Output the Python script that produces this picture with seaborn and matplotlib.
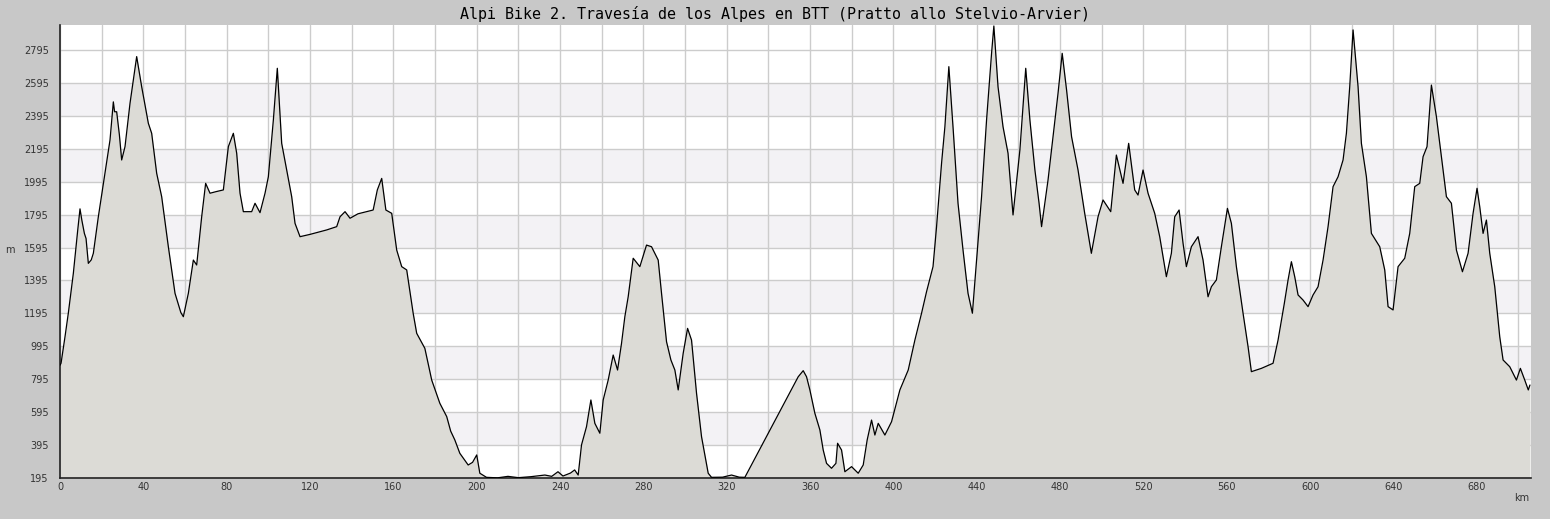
import numpy as np
import pandas as pd
import matplotlib
matplotlib.use("Agg")
import matplotlib.pyplot as plt
import seaborn as sns
from matplotlib.ticker import MultipleLocator, FixedLocator, FuncFormatter

sns.set_style("white")

title = "Alpi Bike 2. Travesía de los Alpes en BTT (Pratto allo Stelvio-Arvier)"

# distance (km) and altitude (m)
km = [0, 0.5, 2.4, 4, 6.4, 8.5, 9.6, 10.5, 11.7, 12.5, 13.6, 15, 16, 18.4, 21.6,
      24, 25.6, 26.2, 27.2, 28.5, 29.6, 31.2, 33.6, 36.8, 39.2, 42.4, 44, 46.4,
      48.8, 52, 55.2, 58, 59.2, 61.6, 64, 65.6, 68, 69.9, 72, 75, 78.4, 80.8,
      83.2, 84.8, 86.4, 88, 92, 93.6, 96, 98.4, 100, 102.4, 104.3, 106.4, 108.8,
      111.2, 112.8, 115.2, 120, 128, 132.8, 134.4, 136.8, 139.2, 143, 147.2,
      150.3, 152.3, 154.4, 156.4, 159.2, 161.6, 164, 166.4, 169.5, 171.2, 175.1,
      178.4, 182.3, 185.6, 187.5, 189.5, 191.9, 195.9, 198, 200, 201.5, 204.7,
      210, 215, 220, 226, 232.7, 236, 239, 241.4, 245, 247, 248.7, 250.3, 252.7,
      254.8, 256.7, 259.1, 260.7, 263.1, 265.5, 267.6, 269.5, 271.1, 272.7,
      275.1, 278.3, 281.5, 283.9, 287.1, 288.7, 291.1, 293.2, 295.1, 296.7,
      299.1, 301.2, 303.1, 305.5, 307.9, 311.1, 312.7, 318, 322.3, 326, 328.7,
      354.3, 356.7, 358.3, 359.9, 362.3, 364.7, 366.3, 367.9, 370.3, 372.4,
      373.2, 375.1, 376.7, 379.9, 383.1, 385.5, 387.4, 389.5, 391.1, 392.7,
      395.9, 399.1, 403.1, 407.1, 410.3, 413.5, 415.9, 419, 420.7, 423.1, 424.7,
      426.6, 428.7, 431, 433.4, 435.8, 437.9, 439.9, 442.3, 444.7, 447.1, 448.2,
      450.2, 452.6, 455, 457.4, 460.7, 463.5, 465.5, 467.9, 469.9, 471.1, 474.2,
      476.6, 479, 481, 483.1, 485.5, 488.6, 491.8, 495, 498.2, 500.6, 504.3, 507,
      510.2, 512.9, 515.8, 517.4, 519.8, 522.2, 525.4, 527.8, 531, 533.4, 535,
      537.1, 539, 540.6, 543, 546.2, 548.6, 551, 552.6, 555, 557.4, 560.3, 562.2,
      564.6, 567.8, 570.2, 571.8, 576.6, 582.2, 584.6, 587.6, 589.4, 591, 592.6,
      594.2, 596.6, 599, 601.4, 603.8, 606.2, 608.6, 611, 613.4, 615.8, 617.4,
      619, 620.6, 623, 624.6, 627, 629.4, 633.4, 635.8, 637.4, 639.8, 642.2,
      645.4, 647.8, 650.2, 652.6, 654.2, 656.1, 658.2, 660.6, 663, 665.4, 667.8,
      670.2, 673.1, 675.8, 678.2, 680.1, 681.4, 683, 684.6, 686.2, 688.6, 691,
      692.6, 695.8, 699, 700.9, 703, 704.7, 705.5]
alt = [880, 892, 1053, 1197, 1438, 1700, 1830, 1760, 1681, 1650, 1499, 1520, 1560,
       1782, 2046, 2248, 2480, 2420, 2420, 2280, 2127, 2208, 2471, 2755, 2572,
       2350, 2289, 2046, 1904, 1600, 1317, 1200, 1175, 1317, 1519, 1489, 1782,
       1985, 1925, 1935, 1945, 2208, 2289, 2168, 1925, 1813, 1813, 1864, 1807,
       1925, 2025, 2370, 2684, 2228, 2066, 1904, 1742, 1661, 1675, 1702, 1722,
       1782, 1813, 1773, 1800, 1813, 1823, 1945, 2015, 1823, 1803, 1580, 1479,
       1459, 1196, 1074, 983, 790, 649, 568, 480, 426, 345, 274, 290, 335, 224,
       199, 196, 205, 197, 203, 213, 205, 233, 207, 225, 244, 213, 396, 507, 669,
       527, 467, 669, 790, 942, 851, 1013, 1175, 1296, 1530, 1479, 1610, 1600,
       1519, 1317, 1023, 912, 851, 730, 953, 1104, 1033, 710, 446, 224, 199, 200,
       213, 200, 199, 810, 847, 810, 730, 588, 487, 365, 284, 254, 284, 406, 365,
       233, 264, 224, 274, 426, 547, 456, 527, 456, 537, 730, 851, 1033, 1196,
       1327, 1479, 1722, 2107, 2329, 2694, 2309, 1864, 1580, 1317, 1196, 1519,
       1904, 2370, 2775, 2941, 2572, 2329, 2168, 1793, 2188, 2684, 2370, 2066,
       1864, 1722, 2005, 2268, 2532, 2775, 2552, 2268, 2066, 1803, 1560, 1782,
       1884, 1813, 2157, 1985, 2228, 1945, 1914, 2066, 1925, 1803, 1661, 1418,
       1560, 1782, 1823, 1621, 1479, 1600, 1661, 1519, 1296, 1357, 1398, 1600,
       1833, 1742, 1479, 1196, 993, 841, 861, 892, 1033, 1255, 1398, 1509, 1418,
       1307, 1276, 1236, 1307, 1357, 1519, 1722, 1965, 2025, 2127, 2289, 2572,
       2917, 2572, 2228, 2025, 1681, 1600, 1459, 1236, 1216, 1479, 1530, 1681,
       1965, 1985, 2147, 2208, 2582, 2390, 2147, 1904, 1864, 1580, 1448, 1560,
       1803, 1955, 1843, 1681, 1762, 1560, 1357, 1053, 912, 871, 790, 861, 790,
       730, 760]

df = pd.DataFrame({"km": km, "alt": alt})

ymin, ymax = 195, 2947
xmax = 706
ytick_vals = list(range(195, 2800, 200))

fig = plt.figure(figsize=(15.5, 5.19), dpi=100, facecolor="#c8c8c8")
ax = fig.add_axes([60 / 1550, 1 - 478 / 519, 1471 / 1550, 453 / 519])
ax.set_facecolor("white")

# alternating grey bands
for lo in range(395, 2700, 400):
    ax.axhspan(lo, lo + 200, color="#f3f2f5", zorder=0, lw=0)

ax.fill_between(df.km, df.alt, ymin, color="#dcdbd6", zorder=2, lw=0)
sns.lineplot(data=df, x="km", y="alt", color="black", lw=0.9, ax=ax, zorder=3)

ax.set_xlim(0, xmax)
ax.set_ylim(ymin, ymax)

ax.xaxis.set_major_locator(MultipleLocator(20))
ax.xaxis.set_minor_locator(MultipleLocator(10))
ax.xaxis.set_major_formatter(FuncFormatter(lambda v, p: f"{int(v)}" if int(v) % 40 == 0 else ""))
ax.yaxis.set_major_locator(FixedLocator(ytick_vals))
ax.yaxis.set_minor_locator(FixedLocator([v + 100 for v in ytick_vals]))

ax.grid(True, which="major", color="#cccccc", lw=1.0)
ax.set_axisbelow(True)
ax.tick_params(axis="both", which="major", direction="in", length=5, width=1,
               color="#222222", labelsize=7, labelcolor="#333333", pad=3)
ax.tick_params(axis="both", which="minor", direction="in", length=3, width=1,
               color="#222222")
ax.tick_params(axis="y", which="major", direction="out", length=5)

for s in ["top", "right"]:
    ax.spines[s].set_visible(False)
for s in ["left", "bottom"]:
    ax.spines[s].set_color("#222222")
    ax.spines[s].set_linewidth(1.2)

ax.set_xlabel("")
ax.set_ylabel("")
fig.text(10 / 1550, 1 - 250 / 519, "m", fontsize=7, color="#333333", ha="center", va="center")
fig.text(1529 / 1550, 1 - 498 / 519, "km", fontsize=7, color="#333333", ha="right", va="center")
fig.text(0.5, 1 - 14 / 519, title, family="DejaVu Sans Mono", fontsize=10.8,
         color="black", ha="center", va="center")

fig.savefig("out.png", dpi=100, facecolor=fig.get_facecolor())
